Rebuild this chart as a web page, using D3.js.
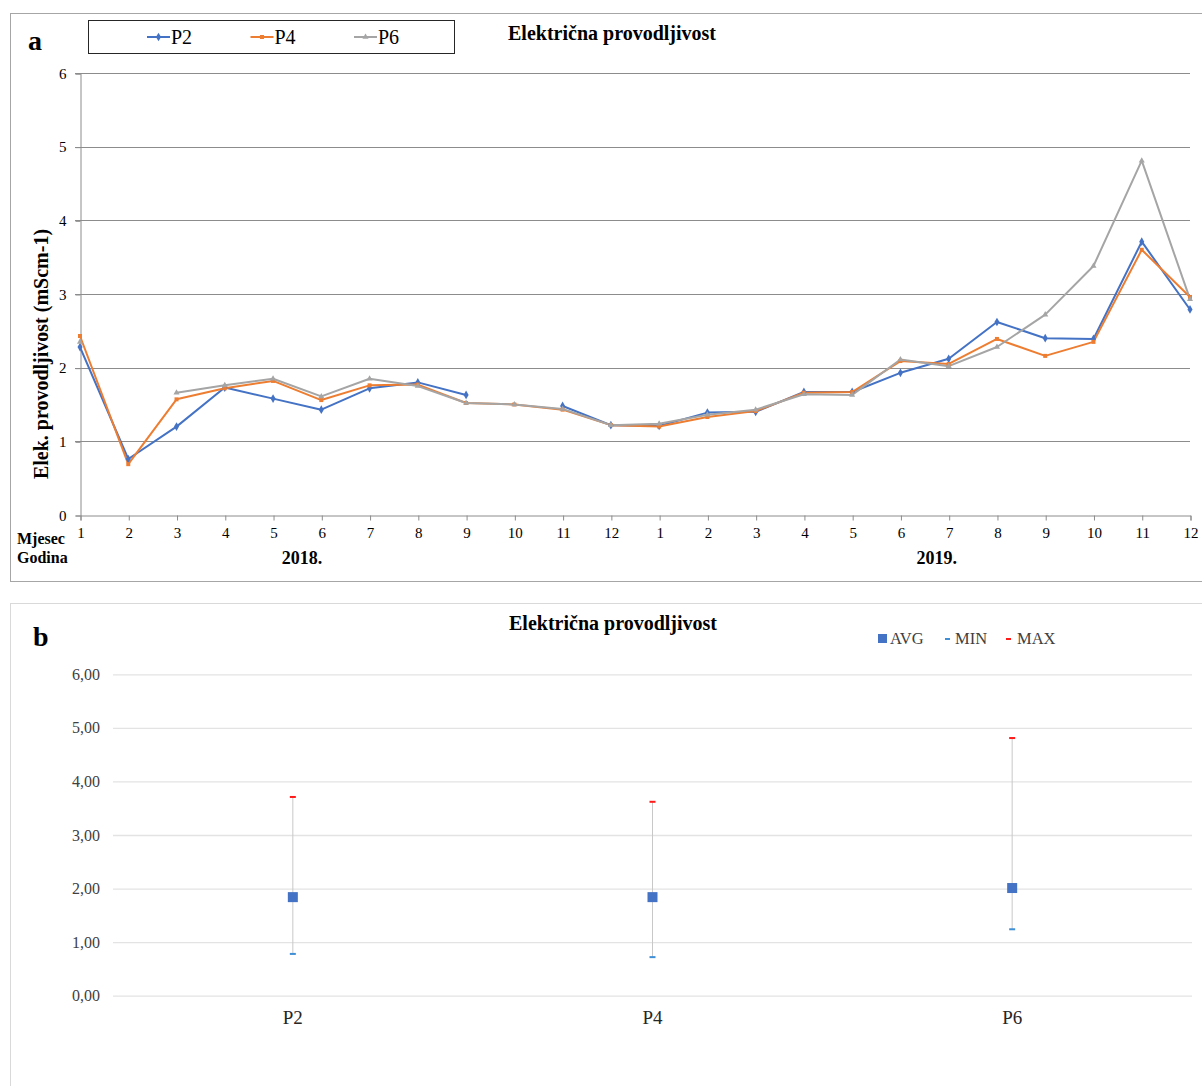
<!DOCTYPE html>
<html>
<head>
<meta charset="utf-8">
<script src="https://cdn.jsdelivr.net/npm/d3@7"></script>
<style>
  body { margin: 0; background: #fff; }
  svg { display: block; font-family: "Liberation Serif", "Times New Roman", serif; }
</style>
</head>
<body>
<svg id="chart" width="1202" height="1086"></svg>
<script>
// ---- data ----
const monthLabels = ['1','2','3','4','5','6','7','8','9','10','11','12',
                     '1','2','3','4','5','6','7','8','9','10','11','12'];
const yearLabels = ['2018.', '2019.'];
const yearPos = [4.6, 17.75]; // in month index units

const seriesNames = ['P2', 'P4', 'P6'];
const p2 = [2.28, 0.76, 1.20, 1.73, 1.58, 1.43, 1.72, 1.80, 1.63, null, 1.48, 1.22,
            1.21, 1.39, 1.40, 1.67, 1.67, 1.93, 2.12, 2.62, 2.40, 2.39, 3.71, 2.79];
const p4 = [2.43, 0.69, 1.57, 1.72, 1.82, 1.56, 1.76, 1.77, 1.52, 1.50, 1.43, 1.22,
            1.20, 1.33, 1.41, 1.66, 1.67, 2.09, 2.05, 2.39, 2.16, 2.35, 3.60, 2.96];
const p6 = [2.35, null, 1.66, 1.76, 1.85, 1.61, 1.85, 1.75, 1.52, 1.50, 1.44, 1.22,
            1.24, 1.36, 1.43, 1.64, 1.63, 2.11, 2.02, 2.28, 2.72, 3.38, 4.81, 2.93];
const seriesColors = ['#4472C4', '#ED7D31', '#A5A5A5'];

const yTicksA = [0, 1, 2, 3, 4, 5, 6];

const statCategories = ['P2', 'P4', 'P6'];
const avgValues = [1.84, 1.84, 2.01];
const minValues = [0.78, 0.72, 1.24];
const maxValues = [3.71, 3.62, 4.81];
const yTicksB = [0, 1, 2, 3, 4, 5, 6];

const svg = d3.select('#chart');

// =========== chart a ===========
svg.append('rect')
    .attr('x', 10.5).attr('y', 13.5)
    .attr('width', 1200).attr('height', 568)
    .attr('fill', 'none').attr('stroke', '#a6a6a6');

svg.append('text')
    .attr('x', 28).attr('y', 50)
    .style('font-size', '28px').style('font-weight', 'bold')
    .text('a');

svg.append('text')
    .attr('x', 612).attr('y', 40)
    .attr('text-anchor', 'middle')
    .style('font-size', '20px').style('font-weight', 'bold')
    .text('Električna provodljivost');

var xA = d3.scaleLinear()
    .domain([0, monthLabels.length - 1])
    .range([80, 1190]);

var yA = d3.scaleLinear()
    .domain([0, 6])
    .range([515, 73]);

// gridlines
svg.append('g').selectAll('line')
    .data(yTicksA.filter(d => d > 0))
    .enter()
    .append('line')
    .attr('x1', 75).attr('x2', xA(23))
    .attr('y1', d => Math.round(yA(d)) + 0.5)
    .attr('y2', d => Math.round(yA(d)) + 0.5)
    .attr('stroke', '#8c8c8c');

// y axis
var yAxisA = svg.append('g')
    .attr('transform', 'translate(80.5,0.5)')
    .call(d3.axisLeft(yA).tickValues(yTicksA).tickSize(5).tickFormat(d3.format('d')));
yAxisA.select('.domain').attr('stroke', '#8c8c8c');
yAxisA.selectAll('.tick line').attr('stroke', '#8c8c8c');
yAxisA.selectAll('.tick text')
    .attr('x', -14)
    .style('font-family', '"Liberation Serif", serif')
    .style('font-size', '15px').attr('fill', '#000');

// x axis
var xAxisA = svg.append('g')
    .attr('transform', 'translate(0.5,' + (Math.round(yA(0)) + 0.5) + ')')
    .call(d3.axisBottom(xA)
        .tickValues(d3.range(monthLabels.length))
        .tickSize(5)
        .tickFormat(i => monthLabels[i]));
xAxisA.select('.domain').attr('stroke', '#8c8c8c');
xAxisA.selectAll('.tick line').attr('stroke', '#8c8c8c');
xAxisA.selectAll('.tick text')
    .attr('y', 12)
    .style('font-family', '"Liberation Serif", serif')
    .style('font-size', '15px').attr('fill', '#000');

svg.append('text').attr('x', 17).attr('y', 544)
    .style('font-size', '16px').style('font-weight', 'bold').text('Mjesec');
svg.append('text').attr('x', 17).attr('y', 563)
    .style('font-size', '16px').style('font-weight', 'bold').text('Godina');

svg.append('g').selectAll('text')
    .data(yearLabels)
    .enter()
    .append('text')
    .attr('x', (d, i) => xA(yearPos[i]))
    .attr('y', 564)
    .attr('text-anchor', 'middle')
    .style('font-size', '18px').style('font-weight', 'bold')
    .text(d => d);

// y label
svg.append('text')
    .attr('transform', 'translate(48,354) rotate(-90)')
    .attr('text-anchor', 'middle')
    .style('font-size', '20px').style('font-weight', 'bold')
    .text('Elek. provodljivost (mScm-1)');

// lines
const allSeries = [p2, p4, p6];
const symbols = [d3.symbolDiamond, d3.symbolSquare, d3.symbolTriangle];
const symbolSizes = [22, 16, 16];

var line = d3.line()
    .defined(d => d != null)
    .x((d, i) => xA(i))
    .y(d => yA(d));

allSeries.forEach(function(values, s) {
    svg.append('path')
        .datum(values)
        .attr('d', line)
        .attr('fill', 'none')
        .attr('stroke', seriesColors[s])
        .attr('stroke-width', 2)
        .attr('stroke-linejoin', 'round');
});
allSeries.forEach(function(values, s) {
    svg.append('g').selectAll('path')
        .data(values.map((v, i) => ({ v: v, i: i })).filter(d => d.v != null))
        .enter()
        .append('path')
        .attr('transform', d => 'translate(' + xA(d.i) + ',' + yA(d.v) + ')')
        .attr('d', d3.symbol().type(symbols[s]).size(symbolSizes[s]))
        .attr('fill', seriesColors[s]);
});

// legend a
svg.append('rect')
    .attr('x', 88.5).attr('y', 20.5)
    .attr('width', 366).attr('height', 33)
    .attr('fill', '#fff').attr('stroke', '#262626');

var legA = svg.append('g').selectAll('g')
    .data(seriesNames)
    .enter()
    .append('g')
    .attr('transform', (d, i) => 'translate(' + [147 + i * 103.5, 37] + ')');
legA.append('line')
    .attr('x1', 0).attr('x2', 23)
    .attr('stroke', (d, i) => seriesColors[i]).attr('stroke-width', 2);
legA.append('path')
    .attr('transform', 'translate(11.5,0)')
    .attr('d', (d, i) => d3.symbol().type(symbols[i]).size(symbolSizes[i])())
    .attr('fill', (d, i) => seriesColors[i]);
legA.append('text')
    .attr('x', 24).attr('y', 7)
    .style('font-size', '20px')
    .text(d => d);

// =========== chart b ===========
svg.append('rect')
    .attr('x', 10.5).attr('y', 603.5)
    .attr('width', 1200).attr('height', 490)
    .attr('fill', 'none').attr('stroke', '#d9d9d9');

svg.append('text')
    .attr('x', 33).attr('y', 646)
    .style('font-size', '28px').style('font-weight', 'bold')
    .text('b');

svg.append('text')
    .attr('x', 613).attr('y', 630)
    .attr('text-anchor', 'middle')
    .style('font-size', '20px').style('font-weight', 'bold')
    .text('Električna provodljivost');

var xB = d3.scaleBand()
    .domain(statCategories)
    .range([113, 1192]);

var yB = d3.scaleLinear()
    .domain([0, 6])
    .range([995.7, 674.3]);

var yAxisB = svg.append('g')
    .attr('transform', 'translate(113,0)')
    .call(d3.axisLeft(yB).tickValues(yTicksB)
        .tickSize(-(1192 - 113))
        .tickFormat(d => d3.format('.2f')(d).replace('.', ',')));
yAxisB.select('.domain').remove();
yAxisB.selectAll('.tick line').attr('stroke', '#e3e3e3').attr('stroke-width', 1.3);
yAxisB.selectAll('.tick text')
    .attr('x', -13)
    .style('font-family', '"Liberation Serif", serif')
    .style('font-size', '16px').attr('fill', '#404040');

svg.append('g').selectAll('text')
    .data(statCategories)
    .enter()
    .append('text')
    .attr('x', d => xB(d) + xB.bandwidth() / 2)
    .attr('y', 1024)
    .attr('text-anchor', 'middle')
    .style('font-size', '19px').attr('fill', '#262626')
    .text(d => d);

var stats = svg.append('g').selectAll('g')
    .data(statCategories)
    .enter()
    .append('g')
    .attr('transform', d => 'translate(' + (xB(d) + xB.bandwidth() / 2) + ',0)');

stats.append('line')
    .attr('y1', (d, i) => yB(minValues[i]))
    .attr('y2', (d, i) => yB(maxValues[i]))
    .attr('stroke', '#c8c8c8').attr('stroke-width', 1);
stats.append('rect')
    .attr('x', -3).attr('width', 6).attr('height', 2)
    .attr('y', (d, i) => yB(minValues[i]) - 1)
    .attr('fill', '#3e8fd6');
stats.append('rect')
    .attr('x', -3).attr('width', 6).attr('height', 2)
    .attr('y', (d, i) => yB(maxValues[i]) - 1)
    .attr('fill', '#ff1a1a');
stats.append('rect')
    .attr('x', -5).attr('width', 10).attr('height', 10)
    .attr('y', (d, i) => yB(avgValues[i]) - 5)
    .attr('fill', '#4472C4');

// legend b
var legB = svg.append('g').attr('transform', 'translate(878,644)');
legB.append('rect').attr('x', 0).attr('y', -10).attr('width', 9).attr('height', 9).attr('fill', '#4472C4');
legB.append('text').attr('x', 12).attr('y', 0).style('font-size', '16.5px').attr('fill', '#404040').text('AVG');
legB.append('rect').attr('x', 67).attr('y', -6).attr('width', 5).attr('height', 2).attr('fill', '#3e8fd6');
legB.append('text').attr('x', 77).attr('y', 0).style('font-size', '16.5px').attr('fill', '#404040').text('MIN');
legB.append('rect').attr('x', 128).attr('y', -6).attr('width', 5).attr('height', 2).attr('fill', '#ff1a1a');
legB.append('text').attr('x', 139).attr('y', 0).style('font-size', '16.5px').attr('fill', '#404040').text('MAX');
</script>
</body>
</html>
